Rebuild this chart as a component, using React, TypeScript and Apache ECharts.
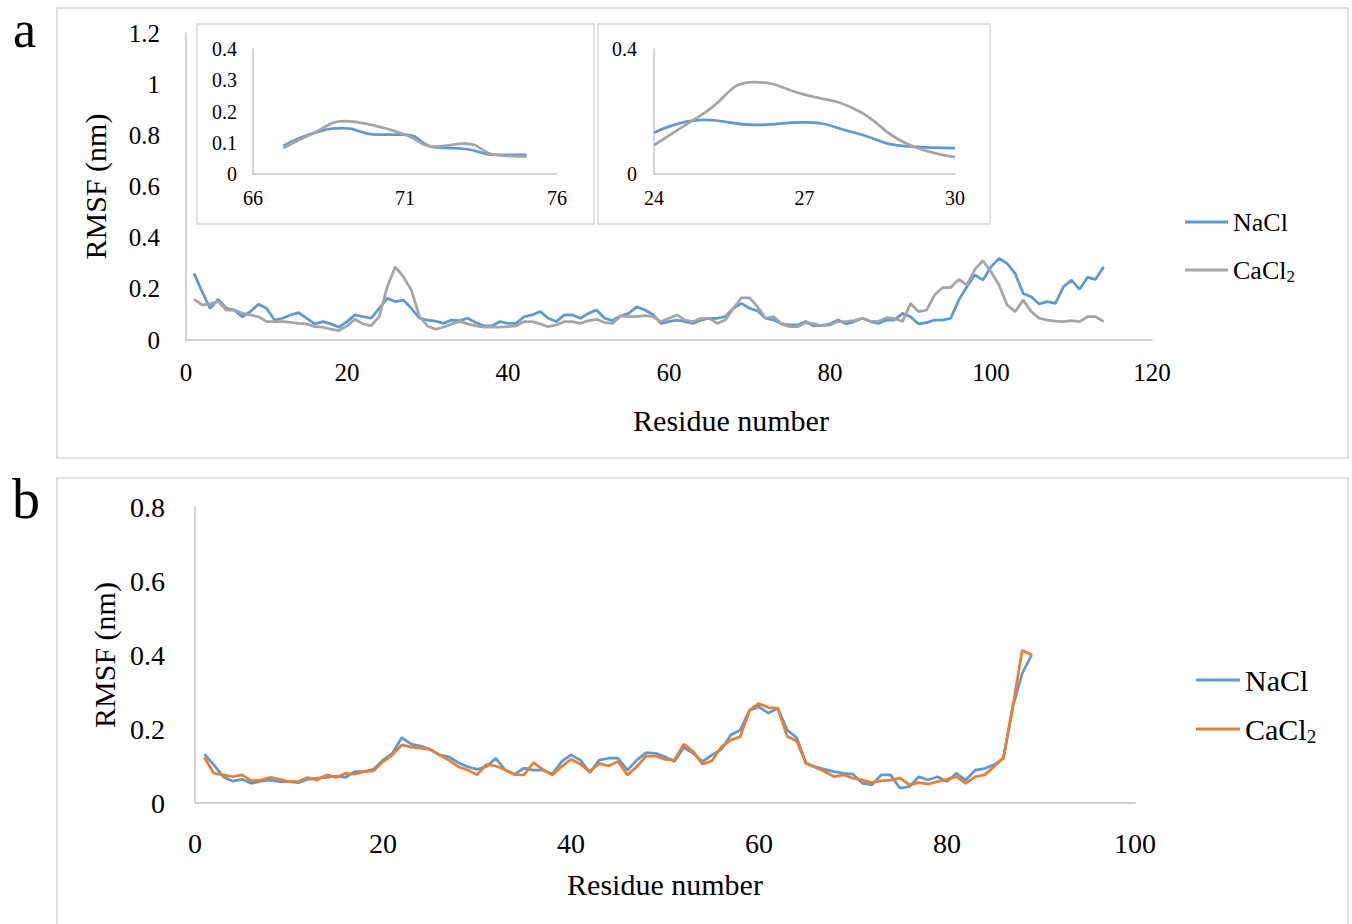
import React, { useEffect, useRef } from "react";
import * as echarts from "echarts";

// Panel a: residues 1..114
const NACL_A = [
  0.26, 0.189, 0.124, 0.159, 0.124, 0.117, 0.091, 0.111, 0.14, 0.124,
  0.078, 0.085, 0.098, 0.107, 0.085, 0.063, 0.072, 0.063, 0.05, 0.072,
  0.098, 0.091, 0.085, 0.124, 0.163, 0.15, 0.156, 0.124, 0.085, 0.078,
  0.074, 0.065, 0.078, 0.076, 0.085, 0.068, 0.055, 0.055, 0.072, 0.065,
  0.065, 0.091, 0.098, 0.111, 0.085, 0.072, 0.098, 0.098, 0.085, 0.104,
  0.117, 0.085, 0.076, 0.094, 0.104, 0.13, 0.117, 0.1, 0.065, 0.072,
  0.078, 0.072, 0.065, 0.078, 0.085, 0.085, 0.091, 0.124, 0.143, 0.124,
  0.114, 0.085, 0.078, 0.063, 0.059, 0.059, 0.072, 0.055, 0.057, 0.063,
  0.078, 0.063, 0.072, 0.085, 0.072, 0.065, 0.078, 0.078, 0.104, 0.091,
  0.063, 0.068, 0.078, 0.078, 0.085, 0.156, 0.208, 0.254, 0.234, 0.286,
  0.319, 0.299, 0.26, 0.182, 0.169, 0.141, 0.15, 0.143, 0.208, 0.234,
  0.198, 0.245, 0.237, 0.286,
];
const CACL2_A = [
  0.159, 0.137, 0.141, 0.15, 0.117, 0.117, 0.104, 0.098, 0.091, 0.072,
  0.072, 0.072, 0.069, 0.065, 0.063, 0.052, 0.05, 0.042, 0.037, 0.055,
  0.081, 0.063, 0.055, 0.091, 0.208, 0.286, 0.247, 0.195, 0.091, 0.055,
  0.042, 0.05, 0.063, 0.072, 0.063, 0.055, 0.05, 0.05, 0.05, 0.052,
  0.055, 0.072, 0.072, 0.063, 0.052, 0.059, 0.072, 0.072, 0.065, 0.076,
  0.081, 0.068, 0.065, 0.094, 0.091, 0.091, 0.095, 0.091, 0.072, 0.085,
  0.098, 0.078, 0.072, 0.085, 0.085, 0.065, 0.078, 0.124, 0.165, 0.165,
  0.13, 0.085, 0.091, 0.063, 0.052, 0.052, 0.068, 0.063, 0.055, 0.059,
  0.072, 0.072, 0.076, 0.085, 0.074, 0.072, 0.087, 0.085, 0.072, 0.143,
  0.111, 0.117, 0.176, 0.205, 0.205, 0.237, 0.215, 0.276, 0.31, 0.267,
  0.215, 0.137, 0.111, 0.156, 0.111, 0.085, 0.078, 0.074, 0.072, 0.076,
  0.072, 0.091, 0.091, 0.072,
];

// Inset 1: residues 67..75
const INSET1_RES = [67, 68, 69, 70, 71, 72, 73, 74, 75];
const INSET1_NACL = [0.09, 0.131, 0.147, 0.126, 0.126, 0.085, 0.08, 0.061, 0.061];
const INSET1_CACL2 = [0.083, 0.131, 0.169, 0.155, 0.126, 0.088, 0.097, 0.061, 0.056];

// Inset 2: residues 24..30
const INSET2_RES = [24, 25, 26, 27, 28, 29, 30];
const INSET2_NACL = [0.132, 0.173, 0.157, 0.165, 0.132, 0.089, 0.083];
const INSET2_CACL2 = [0.092, 0.195, 0.294, 0.254, 0.208, 0.1, 0.054];

// Panel b: residues 1..89
const NACL_B = [
  0.132, 0.103, 0.071, 0.059, 0.064, 0.053, 0.059, 0.062, 0.058, 0.058,
  0.055, 0.064, 0.067, 0.069, 0.073, 0.069, 0.085, 0.085, 0.091, 0.116,
  0.134, 0.177, 0.159, 0.154, 0.145, 0.13, 0.125, 0.109, 0.098, 0.091,
  0.098, 0.121, 0.089, 0.078, 0.094, 0.089, 0.089, 0.078, 0.112, 0.13,
  0.116, 0.082, 0.116, 0.121, 0.121, 0.089, 0.116, 0.136, 0.134, 0.125,
  0.112, 0.15, 0.134, 0.112, 0.13, 0.145, 0.184, 0.197, 0.251, 0.26,
  0.243, 0.256, 0.197, 0.177, 0.108, 0.098, 0.091, 0.085, 0.08, 0.078,
  0.053, 0.049, 0.076, 0.076, 0.04, 0.044, 0.071, 0.062, 0.071, 0.058,
  0.08, 0.062, 0.089, 0.093, 0.103, 0.12, 0.26, 0.35, 0.4,
];
const CACL2_B = [
  0.123, 0.08, 0.076, 0.071, 0.076, 0.06, 0.062, 0.069, 0.064, 0.058,
  0.058, 0.069, 0.062, 0.076, 0.069, 0.08, 0.078, 0.085, 0.087, 0.112,
  0.13, 0.157, 0.151, 0.148, 0.145, 0.13, 0.116, 0.098, 0.089, 0.076,
  0.104, 0.1, 0.089, 0.077, 0.076, 0.109, 0.091, 0.076, 0.098, 0.118,
  0.105, 0.085, 0.107, 0.1, 0.112, 0.076, 0.098, 0.127, 0.127, 0.118,
  0.116, 0.159, 0.139, 0.105, 0.114, 0.152, 0.17, 0.179, 0.251, 0.269,
  0.258, 0.256, 0.18, 0.168, 0.107, 0.096, 0.085, 0.071, 0.076, 0.067,
  0.062, 0.055, 0.06, 0.062, 0.067, 0.049, 0.055, 0.051, 0.058, 0.064,
  0.071, 0.053, 0.071, 0.076, 0.098, 0.123, 0.26, 0.413, 0.4,
];

const INSET1_X_TICKS = [66, 71, 76];
const INSET2_X_TICKS = [24, 27, 30];

const FONT = "'Liberation Serif', 'Times New Roman', serif";
const BLUE = "#5b9bd5";
const GREY = "#a5a5a5";
const ORANGE = "#ed7d31";
const AXIS_C = "#c4c4c4";
const BORDER_C = "#d9d9d9";

const seq = (vals: number[], start: number) => vals.map((v, i) => [i + start, v]);
const zip = (xs: number[], ys: number[]) => xs.map((x, i) => [x, ys[i]]);

function axisBase(fontSize: number) {
  return {
    axisLine: { show: true, lineStyle: { color: AXIS_C, width: 1.5 } },
    axisTick: { show: false },
    splitLine: { show: false },
    axisLabel: { color: "#000", fontFamily: FONT, fontSize },
  };
}

export default function App() {
  const ref = useRef<HTMLDivElement>(null);
  useEffect(() => {
    if (!ref.current) return;
    const chart = echarts.init(ref.current, undefined, { renderer: "svg" });
    const legendText = (fs: number, sub: number, pad: number) => ({
      fontFamily: FONT,
      fontSize: fs,
      color: "#000",
      rich: {
        n: { fontFamily: FONT, fontSize: fs, color: "#000" },
        s: { fontFamily: FONT, fontSize: sub, color: "#000", padding: [pad, 0, 0, 0] },
      },
    });
    const lineSeries = (name: string, data: number[][], color: string, xi: number, smooth = false) => ({
      type: "line",
      name,
      data,
      xAxisIndex: xi,
      yAxisIndex: xi,
      symbol: "none",
      smooth,
      color,
      lineStyle: { color, width: 2.75 },
      z: 3,
    });
    const legendBase = (w: number) => ({
      icon: "rect",
      itemWidth: w,
      itemHeight: 3,
      itemGap: 4,
      padding: 0,
    });
    const option: any = {
      animation: false,
      backgroundColor: "#fff",
      grid: [
        { left: 186, top: 33, width: 966, height: 307 },
        { left: 253, top: 49, width: 304, height: 125 },
        { left: 654, top: 49, width: 301, height: 125 },
        { left: 195, top: 507, width: 940, height: 296 },
      ],
      xAxis: [
        {
          ...axisBase(25),
          type: "value",
          gridIndex: 0,
          min: 0,
          max: 120,
          interval: 20,
          name: "Residue number",
          nameLocation: "middle",
          nameGap: 65,
          nameTextStyle: { fontFamily: FONT, fontSize: 30, color: "#000", padding: [0, 0, 0, 124] },
          axisLabel: { color: "#000", fontFamily: FONT, fontSize: 25, margin: 20 },
        },
        {
          ...axisBase(20),
          type: "value",
          gridIndex: 1,
          min: 66,
          max: 76,
          axisLabel: { color: "#000", fontFamily: FONT, fontSize: 20, margin: 14, customValues: INSET1_X_TICKS },
        },
        {
          ...axisBase(20),
          type: "value",
          gridIndex: 2,
          min: 24,
          max: 30,
          axisLabel: { color: "#000", fontFamily: FONT, fontSize: 20, margin: 14, customValues: INSET2_X_TICKS },
        },
        {
          ...axisBase(28),
          type: "value",
          gridIndex: 3,
          min: 0,
          max: 100,
          interval: 20,
          name: "Residue number",
          nameLocation: "middle",
          nameGap: 66,
          nameTextStyle: { fontFamily: FONT, fontSize: 30, color: "#000" },
          axisLabel: { color: "#000", fontFamily: FONT, fontSize: 28, margin: 26 },
        },
      ],
      yAxis: [
        {
          ...axisBase(25),
          type: "value",
          gridIndex: 0,
          min: 0,
          max: 1.2,
          interval: 0.2,
          name: "RMSF (nm)",
          nameLocation: "middle",
          nameGap: 76,
          nameTextStyle: { fontFamily: FONT, fontSize: 30, color: "#000" },
          axisLabel: { color: "#000", fontFamily: FONT, fontSize: 25, margin: 26 },
        },
        {
          ...axisBase(20),
          type: "value",
          gridIndex: 1,
          min: 0,
          max: 0.4,
          interval: 0.1,
          axisLabel: { color: "#000", fontFamily: FONT, fontSize: 20, margin: 16 },
        },
        {
          ...axisBase(20),
          type: "value",
          gridIndex: 2,
          min: 0,
          max: 0.4,
          interval: 0.4,
          axisLabel: { color: "#000", fontFamily: FONT, fontSize: 20, margin: 17 },
        },
        {
          ...axisBase(28),
          type: "value",
          gridIndex: 3,
          min: 0,
          max: 0.8,
          interval: 0.2,
          name: "RMSF (nm)",
          nameLocation: "middle",
          nameGap: 72,
          nameTextStyle: { fontFamily: FONT, fontSize: 30, color: "#000" },
          axisLabel: { color: "#000", fontFamily: FONT, fontSize: 28, margin: 30 },
        },
      ],
      legend: [
        {
          ...legendBase(43),
          data: ["NaCl"], left: 1185, top: 209,
          textStyle: legendText(26, 17, 12),
        },
        {
          ...legendBase(43),
          data: ["CaCl2"], left: 1185, top: 257,
          formatter: () => "{n|CaCl}{s|2}",
          textStyle: legendText(26, 17, 12),
        },
        {
          ...legendBase(44),
          data: ["NaCl_b"], left: 1196, top: 665,
          formatter: () => "NaCl",
          textStyle: legendText(30, 19, 14),
        },
        {
          ...legendBase(44),
          data: ["CaCl2_b"], left: 1196, top: 714,
          formatter: () => "{n|CaCl}{s|2}",
          textStyle: legendText(30, 19, 14),
        },
      ],
      graphic: [
        { type: "rect", shape: { x: 57, y: 8, width: 1291, height: 450 }, style: { fill: "none", stroke: BORDER_C, lineWidth: 1.5 }, silent: true },
        { type: "rect", shape: { x: 57, y: 478, width: 1291, height: 460 }, style: { fill: "none", stroke: BORDER_C, lineWidth: 1.5 }, silent: true },
        { type: "rect", shape: { x: 197, y: 24, width: 397, height: 200 }, style: { fill: "none", stroke: BORDER_C, lineWidth: 1.5 }, silent: true },
        { type: "rect", shape: { x: 598, y: 24, width: 392, height: 200 }, style: { fill: "none", stroke: BORDER_C, lineWidth: 1.5 }, silent: true },
        { type: "text", x: 13, y: 29, style: { text: "a", font: `52px ${FONT}`, lineHeight: 40, fill: "#000", textVerticalAlign: "middle" }, silent: true },
        { type: "text", x: 12, y: 499, style: { text: "b", font: `56px ${FONT}`, lineHeight: 40, fill: "#000", textVerticalAlign: "middle" }, silent: true },
      ],
      series: [
        lineSeries("NaCl", seq(NACL_A, 1), BLUE, 0),
        lineSeries("CaCl2", seq(CACL2_A, 1), GREY, 0),
        lineSeries("NaCl_i1", zip(INSET1_RES, INSET1_NACL), BLUE, 1, true),
        lineSeries("CaCl2_i1", zip(INSET1_RES, INSET1_CACL2), GREY, 1, true),
        lineSeries("NaCl_i2", zip(INSET2_RES, INSET2_NACL), BLUE, 2, true),
        lineSeries("CaCl2_i2", zip(INSET2_RES, INSET2_CACL2), GREY, 2, true),
        lineSeries("NaCl_b", seq(NACL_B, 1), BLUE, 3),
        lineSeries("CaCl2_b", seq(CACL2_B, 1), ORANGE, 3),
      ],
    };
    chart.setOption(option);
    return () => chart.dispose();
  }, []);
  return (
    <div
      ref={ref}
      style={{ position: "fixed", left: 0, top: 0, width: 1352, height: 924, background: "#fff" }}
    />
  );
}
